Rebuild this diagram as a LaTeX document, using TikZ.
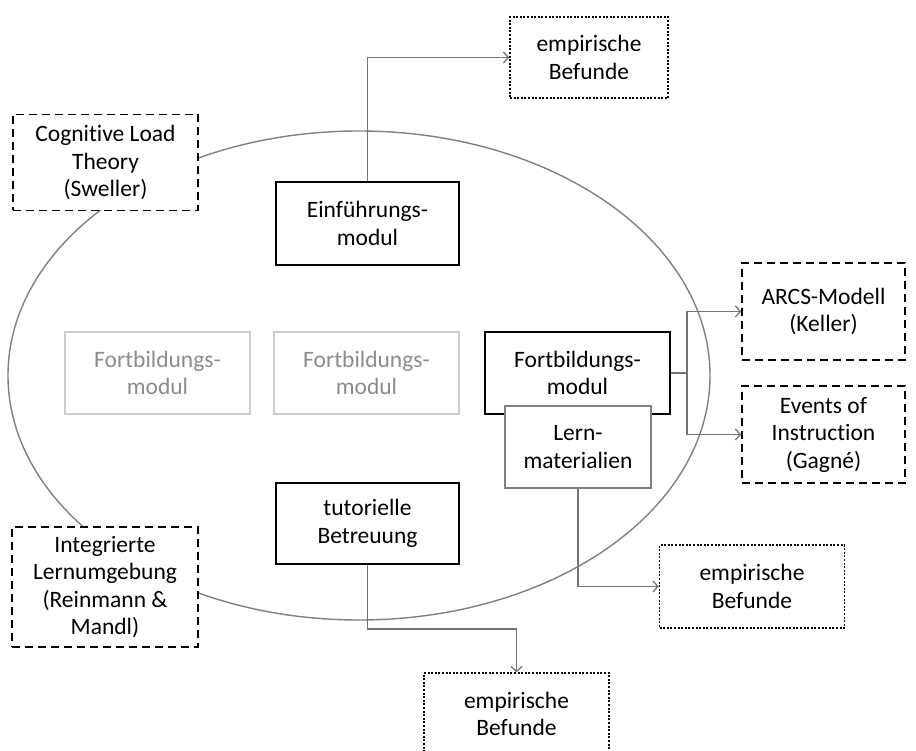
\documentclass[tikz,border=0pt]{standalone}
\usepackage{fontspec}
\setmainfont{Carlito}[Ligatures=NoCommon]
\usetikzlibrary{arrows.meta}
\begin{document}
\begin{tikzpicture}[x=1pt,y=-1pt,
  txt/.style={align=center,font=\fontsize{23.5}{27.5}\selectfont,inner sep=0pt},
  box/.style={txt,draw,line width=1.5pt,fill=white},
  theory/.style={box,draw=black,dash pattern=on 8pt off 5pt},
  finding/.style={box,draw=black,line width=1.4pt,dash pattern=on 2pt off 1.6pt},
  module/.style={box,draw=black},
  faint/.style={box,draw=black!20,text=black!45},
  material/.style={box,draw=black!50},
  conn/.style={draw=black!55,line width=1.6pt,-{Straight Barb[length=5pt,width=11pt,line width=1.3pt]}},
  link/.style={draw=black!55,line width=1.6pt}]
\useasboundingbox (0,0) rectangle (916,751);

% the surrounding ellipse
\draw[black!50,line width=1.4pt] (359,375.5) ellipse [x radius=351, y radius=244.5];

% theories (dashed)
\node[theory,minimum width=185pt,minimum height=96pt] (clt) at (105.5,162.5) {Cognitive Load\\Theory\\(Sweller)};
\node[theory,minimum width=186pt,minimum height=120pt] (ile) at (105,587) {Integrierte\\Lernumgebung\\(Reinmann \&\\Mandl)};
\node[theory,minimum width=163pt,minimum height=97pt] (arcs) at (823.5,311.5) {ARCS-Modell\\(Keller)};
\node[theory,minimum width=163pt,minimum height=97pt] (eoi) at (823.5,434.5) {Events of\\Instruction\\(Gagné)};

% modules
\node[module,minimum width=183pt,minimum height=83pt] (einf) at (367.5,223.5) {Einführungs-\\modul};
\node[faint,minimum width=185pt,minimum height=82pt] (fbA) at (157.5,373) {Fortbildungs-\\modul};
\node[faint,minimum width=185pt,minimum height=82pt] (fbB) at (366.5,373) {Fortbildungs-\\modul};
\node[module,minimum width=185pt,minimum height=82pt] (fb) at (577.5,373) {Fortbildungs-\\modul};
\node[material,minimum width=146pt,minimum height=82pt] (lern) at (578,447) {Lern-\\materialien};
\node[module,minimum width=183pt,minimum height=81pt] (tut) at (367.5,523.5) {tutorielle\\Betreuung};

% empirical findings (dotted)
\node[finding,minimum width=158pt,minimum height=81pt] (empA) at (589,57.5) {empirische\\Befunde};
\node[finding,minimum width=185pt,minimum height=83pt] (empB) at (752,586.5) {empirische\\Befunde};
\node[finding,minimum width=185pt,minimum height=82pt] (empC) at (516.5,714) {empirische\\Befunde};

% connectors
\draw[conn] (einf.north) |- (empA.west);
\coordinate (fork) at ([xshift=16pt]fb.east);
\draw[link] (fb.east) -- (fork);
\draw[conn] (fork) |- (arcs.west);
\draw[conn] (fork) |- (eoi.west);
\draw[conn] (lern.south) |- (empB.west);
\coordinate (bend) at ([yshift=-64pt]tut.south);
\draw[conn] (tut.south) -- (bend) -| (empC.north);
\end{tikzpicture}
\end{document}
